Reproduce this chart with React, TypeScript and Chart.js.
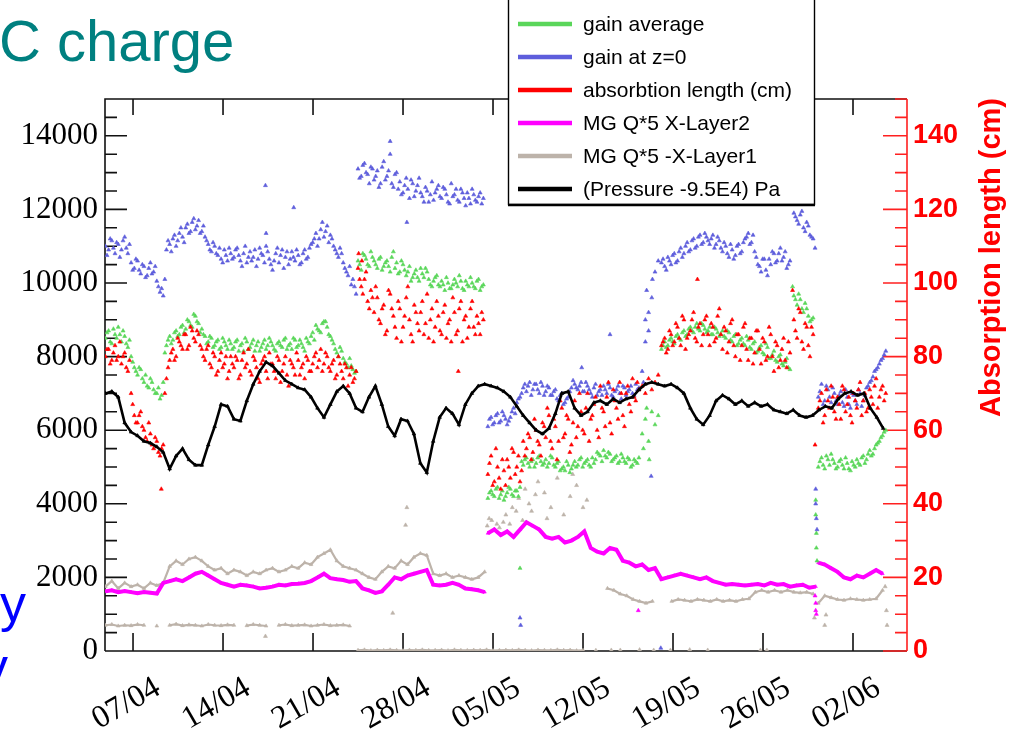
import { useEffect, useRef } from 'react';
import { Chart, registerables } from 'chart.js';

Chart.register(...registerables);

// ---- axes (time in days counted from 01/04 00:00) ----
const X_MIN = 3.82;
const X_MAX = 66.2;
const X_TICK_DAYS = [6, 13, 20, 27, 34, 41, 48, 55, 62];
const X_TICK_LABELS = ['07/04', '14/04', '21/04', '28/04', '05/05', '12/05', '19/05', '26/05', '02/06'];
const LEFT_MAX = 15000;
const LEFT_TICKS = [0, 2000, 4000, 6000, 8000, 10000, 12000, 14000];
const LEFT_MAJOR = 2000;
const LEFT_MINOR = 500;
const RIGHT_MAX = 150;
const RIGHT_TICKS = [0, 20, 40, 60, 80, 100, 120, 140];
const RIGHT_MAJOR = 20;
const RIGHT_MINOR = 5;
const RIGHT_TITLE = 'Absorption length (cm)';

// ---- legend entries ----
const SERIES_LABELS = [
  'gain average',
  'gain at z=0',
  'absorbtion length (cm)',
  'MG Q*5 X-Layer2',
  'MG Q*5 -X-Layer1',
  '(Pressure -9.5E4) Pa',
];
const SERIES_COLORS = ['#5ad65a', '#5e5edc', '#ff0000', '#ff00ff', '#bdb3aa', '#000000'];

type Run = { from: number; step: number; values: (number | null)[] };

// ---- gain at z=0: two interleaved reading sets, each every 6 h ----
const gainZ0A = [
  11000, 10900, 11150, 10800, 11050, 10900, 11250, 10800, 10550, 10400,
  10600, 10250, 10450, 10200, 10550, 10300, 10050, 9750, 9650, 10900,
  11050, 11200, 11000, 11350, 11250, 11500, 11350, 11650, 11450, 11700,
  11400, 11250, 11050, 10850, 11000, 10750, 10650, 10900, 10600, 10800,
  10700, 10950, 10600, 10800, 10550, 10850, 10700, 10450, 10950, 10750,
  11000, 10650, 10350, 10800, 10550, 10900, 10700, 10500, 10850, 10600,
  10750, 10550, 10900, 10700, 11050, 11200, 11000, 11450, 11250, 11550,
  11300, 11000, 10800, 10950, 10550, 10300, 10450, 10100, 9700,
];
const gainZ0A2 = [
  10750, 11200, 10950, 11100, 10700, 11150, 10950, 11050, 10350, 10650,
  10350, 10500, 10150, 10400, 10250, 10450, 9900, 9850, 10100, 11150,
  10850, 11300, 11150, 11500, 11100, 11600, 11400, 11750, 11550, 11350,
  11550, 11150, 10900, 11100, 10800, 10950, 10550, 10750, 10950, 10650,
  10900, 10750, 10450, 11000, 10700, 10600, 10900, 10650, 10800, 10550,
  10850, 10500, 10600, 10950, 10750, 10400, 10850, 10650, 10700, 10900,
  10500, 10800, 10650, 10950, 11100, 11350, 11200, 11650, 11400, 11100,
  11200, 10900, 10700, 10800, 10400, 10200, 9950, 9900,
];
const gainZ0B = [
  13100, 12900, 13250, 12950, 13150, 12800, 13050, 12700, 13300, 12900,
  13500, 12600, 13000, 12750, 12450, 12850, 12300, 12700, 12500, 12850,
  12350, 12600, 12200, 12750, 12450, 12650, 12300, 12550, 12200, 12700,
  12400, 12250, 12550, 12300, 12450, 12150, 12400, 12200, 12450, 12300,
];
const gainZ0B2 = [
  12850, 13200, 13000, 12700, 13100, 12900, 12600, 13150, 12800, 13050,
  12700, 12950, 12550, 12400, 12650, 12550, 12800, 12350, 12650, 12450,
  12200, 12500, 12400, 12250, 12550, 12350, 12600, 12400, 12150, 12350,
  12550, 12200, 12450, 12100, 12300, 12550, 12250, 12350, 12150,
];
const gainZ0C = [
  6100, 6350, 6200, 6450, 6250, 6400, 6150, 6350, 6600, 6750,
  6900, 7150, 7050, 7300, 7100, 7250, 7000, 7200, 7050, 7150,
  6950, 7100, 6800, 7000, 6750, 6900, 7150, 7250, 7100, 7300,
  7050, 7200, 7000, 7150, 6950, 7100, 7200, 7000, 7150, 6900,
  7100, 7000, 7200, 6950, 7100, 7000, 7250, 7150,
];
const gainZ0C2 = [
  6300, 6150, 6400, 6200, 6500, 6300, 6250, 6500, 6450, 6850,
  7000, 7250, 7200, 6950, 7250, 7100, 7300, 6950, 7200, 6950,
  7050, 6850, 6950, 6700, 6850, 7050, 7350, 7150, 7200, 7050,
  7300, 7100, 6900, 7250, 7050, 6950, 7100, 7250, 6950, 7050,
  7200, 6850, 7150, 7050, 7200, 6950, 7100,
];
const gainZ0D = [7600, 8400, 9200, 9600, 10300, 10600];
const gainZ0E = [
  10550, 10450, 10700, 10500, 10800, 10600, 10950, 10800, 11100, 10900,
  11200, 11000, 11300, 11100, 11250, 11050, 11300, 11050, 11150, 10850,
  11000, 10700, 10900, 10750, 11050, 10850, 11200, 11350, 11100, 10850,
  10500, 10300, 10650, 10200, 10500, 10800, 10600, 10950, 10700, 10400,
  10600,
];
const gainZ0E2 = [
  10650, 10350, 10600, 10750, 10550, 10850, 10700, 11000, 10850, 11150,
  10950, 11250, 11050, 11350, 11150, 11200, 10950, 11250, 10950, 11100,
  10800, 11050, 10650, 11000, 10800, 11100, 11250, 11050, 11300, 10700,
  10450, 10650, 10350, 10650, 10850, 10550, 10800, 10600, 10850, 10500,
];
const gainZ0F = [11900, 11700, 11850, 11500, 11650, 11300, 11200];
const gainZ0F2 = [11800, 11600, 11950, 11400, 11550, 11250];
const gainZ0G = [
  6900, 7250, 6800, 7100, 6750, 7000, 6700, 7050, 6650, 6900,
  6600, 6950, 6700, 7000, 6800, 7150, 7300, 7450, 7650, 7800,
  7950, 8150,
];
const gainZ0G2 = [
  7050, 6700, 7200, 6900, 7150, 6800, 6950, 6750, 7100, 6700,
  7000, 6800, 7100, 6650, 6950, 7200, 7350, 7600, 7700, 7900, 8050,
];
const gainZ0Stray: [number, number][] = [
  [16.3, 12650], [18.5, 12050], [16.35, 11350], [26.0, 13850], [27.3, 11650],
  [36.1, 900], [36.15, 700], [46.3, 4750], [45.7, 7300], [45.85, 9000],
  [45.95, 9800], [46.1, 8700], [46.4, 10100], [59.1, 4400], [59.1, 4000],
  [59.15, 3600], [59.2, 3300], [47.05, 80], [43.1, 8600], [40.9, 7700], [59.05, 10950],
];

// ---- gain average ----
const gainAvgA = [
  8500, 8700, 8350, 8600, 8800, 8400, 8550, 8250, 8000, 7700,
  7500, 7650, 7300, 7200, 7400, 7100, 7000, 6850, 7300, 8300,
  8550, 8450, 8700, 8600, 8850, 8750, 8950, 8800, 9100, 8900,
  8750, 8550, 8400, 8500, 8300, 8450, 8250, 8400, 8200, 8350,
  8250, 8450, 8300, 8150, 8400, 8250, 8450, 8300, 8150, 8350,
  8200, 8500, 8300, 8150, 8400, 8250, 8500, 8300, 8200, 8450,
  8300, 8350, 8150, 8400, 8550, 8450, 8750, 8650, 8950, 8800,
  8550, 8350, 8100, 8250, 7950, 7800, 7950, 7650, 7600,
];
const gainAvgA2 = [
  8650, 8400, 8750, 8500, 8600, 8700, 8350, 8450, 7850, 7600,
  7700, 7400, 7500, 7150, 7300, 7000, 7150, 6950, 8100, 8450,
  8350, 8650, 8550, 8800, 8650, 9000, 8850, 9150, 8950, 8650,
  8600, 8350, 8550, 8250, 8400, 8200, 8500, 8300, 8450, 8200,
  8400, 8150, 8350, 8500, 8200, 8350, 8150, 8400, 8250, 8450,
  8300, 8400, 8200, 8350, 8300, 8450, 8200, 8350, 8500, 8250,
  8450, 8250, 8500, 8350, 8650, 8850, 8700, 8900, 8950, 8600,
  8450, 8200, 8000, 8150, 7850, 7700, 7750, 7550,
];
const gainAvgB = [
  10600, 10350, 10750, 10500, 10850, 10600, 10400, 10700, 10450, 10600,
  10300, 10850, 10550, 10300, 10500, 10200, 10450, 10150, 10350, 10050,
  10250, 10400, 10100, 9900, 10150, 9950, 10050, 9800, 10000, 9850,
  10100, 9900, 10050, 9800, 9950, 10150, 9900, 10050, 9800, 9950,
];
const gainAvgB2 = [
  10500, 10800, 10650, 10450, 10700, 10500, 10650, 10350, 10550, 10450,
  10700, 10400, 10250, 10600, 10350, 10300, 10050, 10250, 10150, 10400,
  10150, 10300, 9950, 10050, 10200, 9900, 9950, 10150, 9850, 9950,
  10000, 10200, 9850, 10050, 9900, 10000, 9850, 10100, 9900,
];
const gainAvgC = [
  4150, 4350, 4200, 4450, 4250, 4100, 4300, 4400, 4200, 4350,
  4450, 5050, 5250, 5000, 5200, 5100, 5300, 5050, 5200, 5100,
  5250, 5000, 5150, 4950, 4900, 5050, 4950, 5150, 5050, 5250,
  5100, 5200, 5000, 5100, 5400, 5300, 5450, 5250, 5350, 5200,
  5300, 5150, 5250, 5100, 5200, 5050, 5150, 5250,
];
const gainAvgC2 = [
  4300, 4250, 4400, 4150, 4350, 4200, 4450, 4250, 4350, 4200,
  5150, 5200, 5100, 5150, 5000, 5250, 5150, 5100, 5000, 5300,
  5050, 5100, 4900, 5000, 5150, 4850, 5050, 5000, 5200, 5000,
  5150, 5050, 5250, 5200, 5350, 5150, 5300, 5400, 5150, 5250,
  5100, 5350, 5150, 5250, 5000, 5200, 5100,
];
const gainAvgD = [5900, 6300, 5700, 6500, 6150, 6400];
const gainAvgE = [
  8200, 8400, 8300, 8500, 8350, 8600, 8450, 8700, 8600, 8800,
  8650, 8900, 8700, 8850, 8650, 8800, 8600, 8750, 8550, 8700,
  8500, 8650, 8400, 8600, 8350, 8500, 8300, 8450, 8200, 8400,
  8150, 8300, 8050, 8250, 7950, 8150, 7850, 8050, 7750, 7950,
  7650,
];
const gainAvgE2 = [
  8300, 8250, 8450, 8400, 8550, 8500, 8650, 8550, 8750, 8700,
  8800, 8750, 8900, 8750, 8700, 8600, 8800, 8650, 8600, 8550,
  8700, 8450, 8550, 8300, 8450, 8350, 8550, 8250, 8350, 8100,
  8250, 8100, 8350, 7950, 8050, 7900, 8000, 7800, 7850, 7700,
];
const gainAvgF = [9650, 9400, 9550, 9200, 9300, 8950, 9050];
const gainAvgF2 = [9550, 9700, 9300, 9450, 9100, 9000];
const gainAvgG = [
  5000, 5250, 4950, 5200, 5350, 5100, 5000, 5200, 4950, 5100,
  4900, 5050, 5200, 5050, 5300, 5200, 5450, 5350, 5600, 5700,
  5850, 6000,
];
const gainAvgG2 = [
  5150, 5050, 5300, 5050, 5200, 4950, 5150, 5050, 5250, 4950,
  5150, 5000, 5100, 5250, 5100, 5350, 5300, 5500, 5650, 5800, 5950,
];
const gainAvgStray: [number, number][] = [
  [36.1, 2250], [59.1, 4100], [59.1, 3700], [59.15, 3200], [59.15, 2800],
  [59.2, 2450], [57.3, 9900], [45.7, 5500], [45.95, 6600], [46.15, 5200],
];

// ---- absorption length (cm, right axis) ----
const absLenA = [
  80, 82, 79, 83, 80, 78, 81, 76, 70, 64,
  62, 65, 60, 57, 59, 55, 57, 53, 56, 74,
  79, 82, 80, 84, 82, 86, 83, 87, 84, 86,
  82, 79, 83, 77, 80, 76, 81, 78, 74, 80,
  77, 79, 75, 81, 78, 76, 80, 77, 73, 79,
  76, 81, 78, 74, 79, 76, 80, 72, 78, 75,
  79, 77, 74, 79, 76, 80, 77, 82, 78, 80,
  76, 79, 75, 78, 74, 77, 75, 73, 76,
];
const absLenA2 = [
  82, 78, 81, 79, 84, 80, 77, 79, 67, 62,
  64, 61, 58, 62, 56, 58, 54, 55, 70, 77,
  81, 79, 85, 83, 86, 82, 88, 85, 87, 83,
  80, 82, 78, 81, 75, 79, 77, 80, 76, 78,
  80, 74, 79, 77, 82, 75, 79, 74, 78, 80,
  74, 78, 76, 80, 73, 78, 75, 79, 77, 81,
  75, 78, 80, 76, 78, 81, 79, 76, 81, 77,
  78, 74, 80, 76, 78, 72, 77, 74,
];
const absLenB = [
  104, 99, 101, 95, 98, 92, 96, 89, 94, 87,
  97, 91, 85, 93, 88, 96, 90, 84, 92, 87,
  95, 89, 85, 93, 88, 91, 86, 94, 89, 84,
  92, 87, 95, 90, 85, 93, 88, 91, 86, 90,
];
const absLenB2 = [
  101, 97, 103, 93, 96, 99, 90, 93, 86, 98,
  93, 88, 95, 84, 91, 99, 86, 94, 89, 92,
  86, 97, 90, 84, 95, 87, 92, 85, 90, 96,
  86, 93, 84, 91, 88, 95, 86, 89, 92,
];
const absLenC = [
  48, 53, 46, 50, 44, 49, 52, 47, 54, 50,
  46, 57, 55, 58, 54, 60, 56, 62, 58, 64,
  55, 61, 57, 66, 59, 63, 56, 68, 61, 65,
  59, 70, 63, 67, 60, 72, 65, 69, 62, 71,
  66, 73, 64, 70, 67, 74, 68, 71,
];
const absLenC2 = [
  51, 45, 55, 47, 52, 45, 50, 55, 48, 53,
  49, 53, 59, 52, 63, 57, 53, 61, 66, 57,
  63, 52, 68, 58, 64, 54, 62, 58, 70, 60,
  66, 57, 64, 69, 58, 66, 61, 73, 59, 68,
  63, 70, 61, 72, 65, 69, 73,
];
const absLenD = [72, 70, 74, 71, 73, 75];
const absLenE = [
  83, 85, 82, 86, 84, 88, 83, 90, 85, 87,
  92, 84, 89, 86, 91, 83, 88, 85, 93, 82,
  87, 84, 90, 80, 86, 83, 89, 79, 85, 81,
  87, 78, 84, 80, 86, 76, 83, 79, 85, 77,
  81,
];
const absLenE2 = [
  84, 81, 87, 83, 89, 85, 91, 82, 86, 90,
  85, 88, 83, 90, 86, 89, 84, 91, 86, 88,
  81, 89, 83, 86, 79, 88, 82, 85, 78, 87,
  82, 85, 79, 88, 80, 84, 77, 82, 79, 84,
];
const absLenF = [90, 85, 92, 82, 88, 80, 86];
const absLenF2 = [87, 93, 84, 89, 83, 88];
const absLenG = [
  66, 70, 64, 68, 72, 65, 69, 63, 71, 67,
  64, 70, 66, 73, 68, 65, 71, 67, 74, 69,
  72, 70,
];
const absLenG2 = [
  68, 62, 71, 66, 69, 63, 67, 72, 65, 69,
  62, 68, 71, 64, 70, 66, 69, 72, 66, 71, 68,
];
const absLenStray: [number, number][] = [
  [8.2, 44], [59.05, 56], [57.3, 98], [31.3, 76], [49.9, 101], [23.55, 108], [23.8, 106],
];

// ---- MG charge, X-Layer2 (readings every 12 h) ----
const layer2A = [
  1620, 1650, 1600, 1630, 1600, 1570, 1600, 1580, 1560, 1850,
  1900, 1950, 1900, 2000, 2100, 2150, 2050, 1950, 1850, 1800,
  1750, 1800, 1780, 1750, 1700, 1720, 1750, 1800, 1780, 1820,
  1830, 1850, 1900, 2000, 2100, 1980, 1950, 1930, 1880, 1900,
  1700, 1650, 1580, 1620, 1800, 2000, 1950, 2050, 2100, 2150,
  2200, 1800, 1780, 1800, 1850, 1800, 1700, 1680, 1650, 1600,
];
const layer2B = [
  3200, 3300, 3150, 3250, 3100, 3300, 3500, 3400, 3300, 3100,
  3050, 3100, 2950, 3000, 3100, 3250, 2800, 2700, 2650, 2800,
  2750, 2450, 2400, 2300, 2350, 2200, 2250, 1950, 2000, 2050,
  2100, 2050, 2000, 1950, 2000, 1900, 1850, 1800, 1820, 1800,
  1780, 1800, 1820, 1780, 1850, 1800, 1820, 1750, 1780, 1800,
  1720, 1750,
];
const layer2C = [2400, 2350, 2250, 2150, 2000, 1950, 2050, 2000, 2100, 2200, 2100];
const layer2Stray: [number, number][] = [
  [59.05, 1500], [59.1, 1300], [59.1, 1100], [59.15, 1000], [45.3, 1100],
];

// ---- MG charge, X-Layer1 ----
const layer1A = [
  1750, 1900, 1700, 1850, 1750, 1800, 1700, 1850, 1780, 1850,
  2300, 2450, 2350, 2500, 2550, 2450, 2300, 2200, 2250, 2100,
  2200, 2150, 2050, 2150, 2100, 2200, 2250, 2150, 2200, 2300,
  2250, 2400, 2350, 2550, 2650, 2750, 2450, 2300, 2250, 2200,
  2100, 2000, 1950, 2150, 2300, 2250, 2450, 2350, 2550, 2650,
  2600, 2100, 2050, 2100, 2000, 2050, 2000, 1950, 2000, 2150,
];
const layer1B = [
  700, 720, 680, 700, 690, 720, 700, null, 680, null,
  700, 730, 690, 710, 700, 680, 720, 700, 690, 710,
  700, null, 690, 720, 700, 680, null, 700, 720, 690,
  700, 710, 680, 700, 720, 690, 700, 710, 680,
];
const layer1C = [
  20, 30, 10, 25, 15, 30, 20, 10, 25, 20,
  30, 15, 20, 25, 10, 30, 20, 15, 25, 20,
  30, 10, 20, 25, 15, 30, 20, 10, 25, 20,
  15, 30, 20, 25, 10, 20, null, 20,
];
const layer1D = [
  1700, 1650, 1550, 1500, 1400, 1350, 1300, 1350, null, null,
  1350, 1400, 1380, 1350, 1400, 1380, 1350, 1400, 1350, 1380,
  1350, 1400, 1420, 1600, 1650, 1600, 1650, 1600, 1650, 1600,
  1580, 1600, 1550,
];
const layer1E = [1300, 1500, 1450, 1400, 1380, 1420, 1400, 1380, 1400, 1420, 1650];
const layer1Stray: [number, number][] = [
  [33.55, 3400], [33.7, 3600], [33.9, 3550], [34.1, 3300], [34.3, 3450], [34.5, 3350],
  [34.8, 3500], [35.0, 3700], [35.3, 3450], [35.5, 3900], [35.8, 3800], [36.0, 4150],
  [36.3, 3550], [36.5, 4400], [36.8, 4000], [37.0, 3800], [37.3, 4250], [37.5, 4600],
  [38.0, 4300], [38.2, 3600], [38.5, 3900], [39.0, 4700], [39.5, 3700], [40.0, 4200],
  [40.2, 4800], [40.5, 4500], [41.0, 3900], [41.3, 4100],
  [27.3, 3900], [27.2, 3420], [26.2, 1030], [16.3, 400],
  [43.2, 20], [43.9, 20], [45.4, 30], [46.5, 20], [47.8, 20], [49.3, 30], [50.7, 20],
  [54.8, 20], [55.3, 20],
  [59.0, 900], [59.9, 980], [59.8, 700], [64.6, 1100], [64.65, 700], [64.5, 1750],
];

// ---- pressure minus 9.5E4 Pa (readings every 12 h) ----
const pressure = [
  7000, 7050, 6900, 6200, 5950, 5850, 5700, 5650, 5550, 5400,
  4950, 5300, 5500, 5200, 5050, 5050, 5600, 6100, 6700, 6650,
  6300, 6250, 6800, 7250, 7600, 7850, 7750, 7550, 7350, 7250,
  7150, 7100, 6900, 6600, 6350, 6700, 7050, 7200, 7000, 6600,
  6500, 6900, 7200, 6700, 6100, 5850, 6300, 6250, 5900, 5100,
  4850, 5700, 6350, 6600, 6450, 6150, 6700, 7000, 7200, 7250,
  7200, 7150, 7050, 6900, 6650, 6400, 6200, 6000, 5900, 6050,
  6450, 7000, 7050, 6600, 6400, 6500, 6750, 6800, 6700, 6850,
  6750, 6850, 6900, 7100, 7250, 7300, 7250, 7200, 7250, 7150,
  7000, 6600, 6300, 6150, 6400, 6800, 6950, 6850, 6700, 6800,
  6650, 6750, 6650, 6700, 6550, 6500, 6450, 6550, 6400, 6350,
  6400, 6550, 6650, 6600, 6850, 7000, 7050, 6950, 7000, 6600,
  6350, 6050,
];

// Run start days; the second reading set is offset by 3 h.
const RUN_STARTS = [3.85, 23.5, 33.6, 45.6, 47.1, 57.4, 59.3];
const Q = 0.25;
const H = 0.125;

const gainZ0Runs: Run[] = [
  { from: RUN_STARTS[0], step: Q, values: gainZ0A },
  { from: RUN_STARTS[0] + H, step: Q, values: gainZ0A2 },
  { from: RUN_STARTS[1], step: Q, values: gainZ0B },
  { from: RUN_STARTS[1] + H, step: Q, values: gainZ0B2 },
  { from: RUN_STARTS[2], step: Q, values: gainZ0C },
  { from: RUN_STARTS[2] + H, step: Q, values: gainZ0C2 },
  { from: RUN_STARTS[3], step: Q, values: gainZ0D },
  { from: RUN_STARTS[4], step: Q, values: gainZ0E },
  { from: RUN_STARTS[4] + H, step: Q, values: gainZ0E2 },
  { from: RUN_STARTS[5], step: Q, values: gainZ0F },
  { from: RUN_STARTS[5] + H, step: Q, values: gainZ0F2 },
  { from: RUN_STARTS[6], step: Q, values: gainZ0G },
  { from: RUN_STARTS[6] + H, step: Q, values: gainZ0G2 },
];
const gainAvgRuns: Run[] = [
  { from: RUN_STARTS[0], step: Q, values: gainAvgA },
  { from: RUN_STARTS[0] + H, step: Q, values: gainAvgA2 },
  { from: RUN_STARTS[1], step: Q, values: gainAvgB },
  { from: RUN_STARTS[1] + H, step: Q, values: gainAvgB2 },
  { from: RUN_STARTS[2], step: Q, values: gainAvgC },
  { from: RUN_STARTS[2] + H, step: Q, values: gainAvgC2 },
  { from: RUN_STARTS[3], step: Q, values: gainAvgD },
  { from: RUN_STARTS[4], step: Q, values: gainAvgE },
  { from: RUN_STARTS[4] + H, step: Q, values: gainAvgE2 },
  { from: RUN_STARTS[5], step: Q, values: gainAvgF },
  { from: RUN_STARTS[5] + H, step: Q, values: gainAvgF2 },
  { from: RUN_STARTS[6], step: Q, values: gainAvgG },
  { from: RUN_STARTS[6] + H, step: Q, values: gainAvgG2 },
];
const absLenRuns: Run[] = [
  { from: RUN_STARTS[0], step: Q, values: absLenA },
  { from: RUN_STARTS[0] + H, step: Q, values: absLenA2 },
  { from: RUN_STARTS[1], step: Q, values: absLenB },
  { from: RUN_STARTS[1] + H, step: Q, values: absLenB2 },
  { from: RUN_STARTS[2], step: Q, values: absLenC },
  { from: RUN_STARTS[2] + H, step: Q, values: absLenC2 },
  { from: RUN_STARTS[3], step: Q, values: absLenD },
  { from: RUN_STARTS[4], step: Q, values: absLenE },
  { from: RUN_STARTS[4] + H, step: Q, values: absLenE2 },
  { from: RUN_STARTS[5], step: Q, values: absLenF },
  { from: RUN_STARTS[5] + H, step: Q, values: absLenF2 },
  { from: RUN_STARTS[6], step: Q, values: absLenG },
  { from: RUN_STARTS[6] + H, step: Q, values: absLenG2 },
];
const layer2Runs: Run[] = [
  { from: 3.85, step: 0.5, values: layer2A },
  { from: 33.6, step: 0.5, values: layer2B },
  { from: 59.3, step: 0.5, values: layer2C },
];
const layer1Runs: Run[] = [
  { from: 3.85, step: 0.5, values: layer1A },
  { from: 3.85, step: 0.5, values: layer1B },
  { from: 23.5, step: 0.5, values: layer1C },
  { from: 42.9, step: 0.5, values: layer1D },
  { from: 59.3, step: 0.5, values: layer1E },
];
const pressureRuns: Run[] = [{ from: 3.85, step: 0.5, values: pressure }];

type Pt = { x: number; y: number | null };

// Expand runs into points; a null point between runs breaks the trace.
function runsToPoints(runs: Run[], stray: [number, number][] = []): Pt[] {
  const pts: Pt[] = [];
  runs.forEach((run, r) => {
    if (r > 0) pts.push({ x: run.from, y: null });
    run.values.forEach((v, i) => pts.push({ x: run.from + i * run.step, y: v }));
  });
  stray.forEach(([x, y]) => pts.push({ x, y }));
  return pts;
}
function strayPoints(stray: [number, number][]): Pt[] {
  return stray.map(([x, y]) => ({ x, y }));
}

function markers(label: string, color: string, data: Pt[], extra: Record<string, unknown> = {}) {
  return {
    label,
    data,
    borderColor: color,
    backgroundColor: color,
    pointStyle: 'triangle',
    pointRadius: 2.3,
    pointBorderWidth: 0.6,
    pointHoverRadius: 0,
    showLine: false,
    ...extra,
  };
}

const SERIF = '"Liberation Serif", "Times New Roman", serif';
const SANS = '"Liberation Sans", Arial, Helvetica, sans-serif';

// Frame and ROOT-style inward ticks on all four sides.
const frameTicks = {
  id: 'frameTicks',
  beforeDatasetsDraw(chart: any) {
    const { ctx, chartArea: a, scales } = chart;
    const ys = scales.y;
    const ys1 = scales.y1;
    const xs = scales.x;
    ctx.save();
    ctx.lineWidth = 1.6;
    ctx.strokeStyle = '#111';
    ctx.beginPath();
    ctx.moveTo(a.left, a.bottom);
    ctx.lineTo(a.left, a.top);
    ctx.lineTo(a.right, a.top);
    ctx.moveTo(a.left, a.bottom);
    ctx.lineTo(a.right, a.bottom);
    for (let v = 0; v <= LEFT_MAX; v += LEFT_MINOR) {
      const py = ys.getPixelForValue(v);
      const len = v % LEFT_MAJOR === 0 ? 22 : 12;
      ctx.moveTo(a.left, py);
      ctx.lineTo(a.left + len, py);
    }
    X_TICK_DAYS.forEach((d) => {
      const px = xs.getPixelForValue(d);
      ctx.moveTo(px, a.bottom);
      ctx.lineTo(px, a.bottom - 18);
      ctx.moveTo(px, a.top);
      ctx.lineTo(px, a.top + 16);
    });
    ctx.stroke();
    ctx.strokeStyle = '#ff2020';
    ctx.beginPath();
    ctx.moveTo(a.right, a.top);
    ctx.lineTo(a.right, a.bottom);
    for (let v = 0; v <= RIGHT_MAX; v += RIGHT_MINOR) {
      const py = ys1.getPixelForValue(v);
      const len = v % RIGHT_MAJOR === 0 ? 24 : 12;
      ctx.moveTo(a.right, py);
      ctx.lineTo(a.right - len, py);
    }
    ctx.stroke();
    ctx.restore();
  },
};

// Right axis title (reads upward, aligned to the top end) and the legend box.
const overlay = {
  id: 'overlay',
  afterDraw(chart: any) {
    const { ctx, chartArea: a } = chart;
    ctx.save();
    ctx.translate(a.right + 85, a.top - 1);
    ctx.rotate(-Math.PI / 2);
    ctx.font = `bold 29px ${SANS}`;
    ctx.fillStyle = '#ff0000';
    ctx.textAlign = 'right';
    ctx.textBaseline = 'middle';
    ctx.fillText(RIGHT_TITLE, 0, 0);
    ctx.restore();

    const left = 508;
    const right = 815;
    const bottom = 205;
    ctx.save();
    ctx.fillStyle = '#ffffff';
    ctx.fillRect(left, -4, right - left, bottom + 4);
    ctx.strokeStyle = '#000';
    ctx.lineWidth = 1.4;
    ctx.strokeRect(left + 0.5, -4, right - left - 1, bottom + 3.5);
    ctx.lineWidth = 2.5;
    ctx.beginPath();
    ctx.moveTo(left, bottom);
    ctx.lineTo(right, bottom);
    ctx.stroke();
    ctx.font = `21px ${SANS}`;
    ctx.textBaseline = 'middle';
    ctx.textAlign = 'left';
    SERIES_LABELS.forEach((label, i) => {
      const y = 24 + i * 33;
      ctx.strokeStyle = SERIES_COLORS[i];
      ctx.lineWidth = 4.5;
      ctx.beginPath();
      ctx.moveTo(518, y);
      ctx.lineTo(572, y);
      ctx.stroke();
      ctx.fillStyle = '#000';
      ctx.fillText(label, 583, y + 1);
    });
    ctx.restore();
  },
};

export default function App() {
  const canvasRef = useRef<HTMLCanvasElement | null>(null);

  useEffect(() => {
    const canvas = canvasRef.current;
    if (!canvas) return;
    const [cAvg, cZ0, cAbs, cL2, cL1, cP] = SERIES_COLORS;
    const chart = new Chart(canvas, {
      type: 'scatter',
      data: {
        datasets: [
          markers(SERIES_LABELS[5], cP, runsToPoints(pressureRuns), {
            showLine: true,
            borderWidth: 2.6,
            pointRadius: 2.1,
            spanGaps: false,
          }),
          markers(SERIES_LABELS[2], cAbs, runsToPoints(absLenRuns, absLenStray), { yAxisID: 'y1' }),
          markers(SERIES_LABELS[1], cZ0, runsToPoints(gainZ0Runs, gainZ0Stray)),
          markers(SERIES_LABELS[0], cAvg, runsToPoints(gainAvgRuns, gainAvgStray)),
          markers(SERIES_LABELS[3], cL2, runsToPoints(layer2Runs), {
            showLine: true,
            borderWidth: 4,
            pointRadius: 1.9,
            spanGaps: false,
          }),
          markers(SERIES_LABELS[3], cL2, strayPoints(layer2Stray)),
          markers(SERIES_LABELS[4], cL1, runsToPoints(layer1Runs), {
            showLine: true,
            borderWidth: 2.2,
            pointRadius: 2.1,
            spanGaps: false,
          }),
          markers(SERIES_LABELS[4], cL1, strayPoints(layer1Stray)),
        ] as any,
      },
      options: {
        animation: false,
        responsive: false,
        events: [],
        layout: { padding: { top: 99, left: 0, right: 0, bottom: 0 } },
        plugins: { legend: { display: false }, tooltip: { enabled: false } },
        scales: {
          x: {
            type: 'linear',
            min: X_MIN,
            max: X_MAX,
            afterBuildTicks: (s: any) => {
              s.ticks = X_TICK_DAYS.map((v) => ({ value: v }));
            },
            afterFit: (s: any) => {
              s.height = 87;
            },
            grid: { display: false, drawTicks: false },
            border: { display: false },
            ticks: {
              autoSkip: false,
              minRotation: 30,
              maxRotation: 30,
              labelOffset: 25,
              padding: 18,
              color: '#000',
              font: { family: SERIF, size: 32 },
              callback: (_v: any, i: number) => X_TICK_LABELS[i],
            },
          },
          y: {
            type: 'linear',
            position: 'left',
            min: 0,
            max: LEFT_MAX,
            afterBuildTicks: (s: any) => {
              s.ticks = LEFT_TICKS.map((v) => ({ value: v }));
            },
            afterFit: (s: any) => {
              s.width = 105;
            },
            grid: { display: false, drawTicks: false },
            border: { display: false },
            ticks: {
              padding: 7,
              color: '#000',
              font: { family: SERIF, size: 31 },
              callback: (v: any) => String(v),
            },
          },
          y1: {
            type: 'linear',
            position: 'right',
            min: 0,
            max: RIGHT_MAX,
            afterBuildTicks: (s: any) => {
              s.ticks = RIGHT_TICKS.map((v) => ({ value: v }));
            },
            afterFit: (s: any) => {
              s.width = 110;
            },
            grid: { display: false, drawTicks: false },
            border: { display: false },
            ticks: {
              padding: 6,
              color: '#ff0000',
              font: { family: SANS, size: 27, weight: 'bold' },
              callback: (v: any) => String(v),
            },
          },
        },
      } as any,
      plugins: [frameTicks, overlay],
    });
    return () => chart.destroy();
  }, []);

  return (
    <div
      style={{
        position: 'fixed',
        left: 0,
        top: 0,
        width: 1017,
        height: 738,
        overflow: 'hidden',
        background: '#ffffff',
      }}
    >
      <canvas ref={canvasRef} width={1017} height={738} style={{ display: 'block' }} />
      <div
        style={{
          position: 'absolute',
          left: -1,
          top: 12,
          font: `58px ${SANS}`,
          lineHeight: '58px',
          color: '#008080',
          whiteSpace: 'nowrap',
        }}
      >
        C charge
      </div>
      <div
        style={{
          position: 'absolute',
          left: 0,
          top: 577,
          font: `52px ${SANS}`,
          lineHeight: '52px',
          color: '#0000ff',
        }}
      >
        y
      </div>
      <div
        style={{
          position: 'absolute',
          left: -18,
          top: 640,
          font: `52px ${SANS}`,
          lineHeight: '52px',
          color: '#0000ff',
        }}
      >
        y
      </div>
    </div>
  );
}
